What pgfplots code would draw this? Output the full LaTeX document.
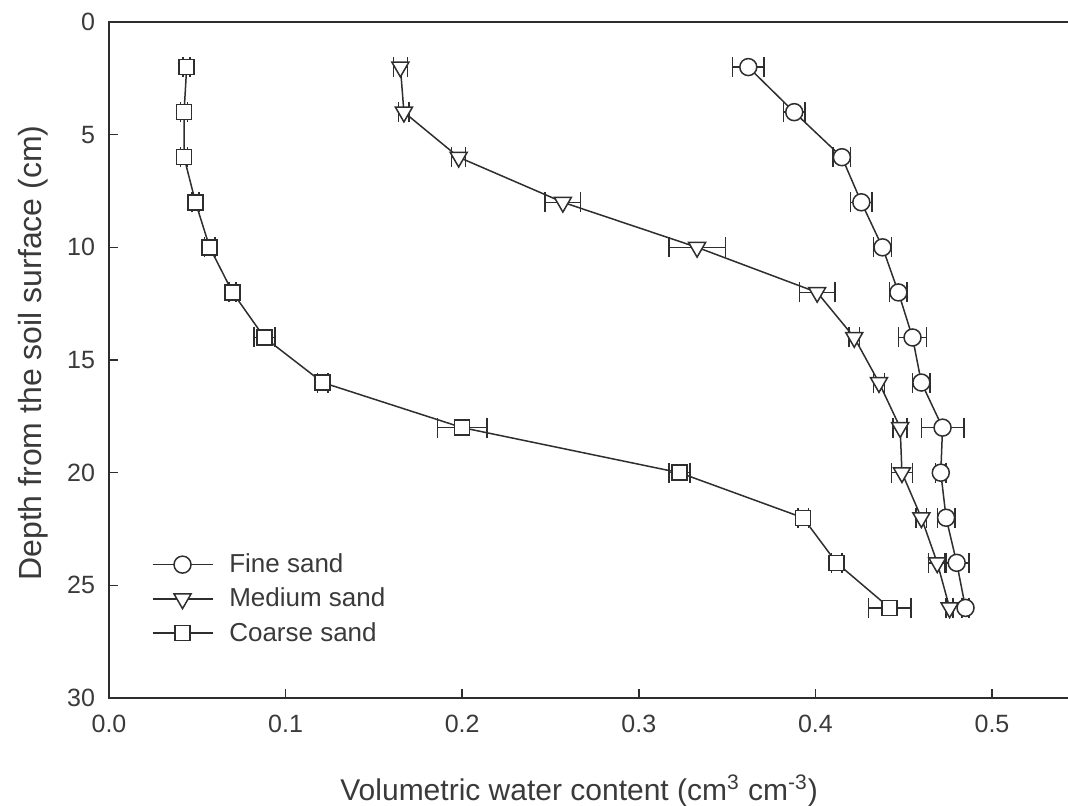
\documentclass[border=0pt]{standalone}
\usepackage{pgfplots}
\pgfplotsset{compat=1.18}
\usepackage{pgfplotstable}
\usepackage{fontspec}
\setmainfont{Liberation Sans}
\definecolor{ink}{HTML}{2E2E2E}
\definecolor{txt}{HTML}{3A3A3A}

\pgfplotstableread{
x y ex
0.362 2 0.009
0.388 4 0.006
0.415 6 0.005
0.426 8 0.006
0.438 10 0.005
0.447 12 0.005
0.455 14 0.008
0.460 16 0.005
0.472 18 0.012
0.471 20 0.003
0.474 22 0.005
0.480 24 0.007
0.485 26 0.002
}\fine
\pgfplotstableread{
x y ex
0.165 2 0.004
0.167 4 0.003
0.198 6 0.004
0.257 8 0.010
0.333 10 0.016
0.401 12 0.010
0.422 14 0.003
0.436 16 0.003
0.448 18 0.004
0.449 20 0.006
0.460 22 0.003
0.469 24 0.005
0.476 26 0.002
}\medium
\pgfplotstableread{
x y ex
0.044 2 0.002
0.0425 4 0.002
0.0425 6 0.002
0.049 8 0.002
0.057 10 0.003
0.070 12 0.002
0.088 14 0.006
0.121 16 0.003
0.200 18 0.014
0.323 20 0.006
0.393 22 0.003
0.412 24 0.003
0.442 26 0.012
}\coarse

\pgfplotsset{
  errs/.style={forget plot, draw=none, mark=none,
    error bars/.cd, x dir=both, x explicit,
    error bar style={draw=ink, line width=0.75pt, solid},
    error mark options={rotate=90, mark size=5pt, draw=ink, line width=0.75pt}},
}

\begin{document}
\begin{tikzpicture}
\begin{axis}[
  at={(0,0)}, anchor=south west,
  scale only axis, width=485.65pt, height=338pt,
  xmin=0, xmax=0.55, ymin=0, ymax=30, y dir=reverse,
  axis line style={ink, line width=1pt},
  xtick={0,0.1,0.2,0.3,0.4,0.5}, ytick={0,5,10,15,20,25,30},
  xtick pos=left, ytick pos=left,
  xticklabel pos=left, yticklabel pos=left,
  tick align=inside, major tick length=4.5pt,
  tick style={ink, line width=0.8pt},
  xticklabel style={yshift=-5pt, /pgf/number format/.cd, fixed, fixed zerofill, precision=1},
  yticklabel style={xshift=-3.5pt},
  /pgf/number format/assume math mode=true,
  tick label style={font=\fontsize{12.5}{14}\selectfont, text=txt},
  xlabel={Volumetric water content (cm\textsuperscript{3} cm\textsuperscript{-3})},
  ylabel={Depth from the soil surface (cm)},
  xlabel style={font=\fontsize{15}{18}\selectfont, text=txt, inner sep=0pt,
    at={(axis description cs:0.2378,0)}, anchor=base west, yshift=-51pt},
  ylabel style={font=\fontsize{16}{19}\selectfont, text=txt, inner sep=0pt,
    at={(axis description cs:-0.069,0.5104)}, anchor=base},
  legend style={at={(axis cs:0.024,23.4)}, anchor=north west, draw=none, fill=none,
    font=\fontsize{13}{15}\selectfont, text=txt, inner sep=0pt, row sep=2.2pt,
    nodes={inner sep=2pt}},
  legend cell align=left,
  legend image code/.code={\draw[mark repeat=2, mark phase=2, #1] plot coordinates {(0pt,0pt) (15pt,0pt) (30pt,0pt)};},
  every axis plot/.append style={ink, line width=0.75pt},
]
\addplot[errs] table[x=x, y=y, x error=ex] {\fine};
\addplot[errs] table[x=x, y=y, x error=ex] {\medium};
\addplot[errs] table[x=x, y=y, x error=ex] {\coarse};

\addplot[mark=*, mark size=4.25pt, mark options={fill=white, draw=ink, solid}]
  table[x=x, y=y] {\fine};
\addlegendentry{\hspace{6pt}Fine sand}
\addplot[mark=triangle*, mark size=4.9pt, mark options={fill=white, draw=ink, solid, rotate=180}]
  table[x=x, y=y] {\medium};
\addlegendentry{\hspace{6pt}Medium sand}
\addplot[mark=square*, mark size=3.75pt, mark options={fill=white, draw=ink, solid}]
  table[x=x, y=y] {\coarse};
\addlegendentry{\hspace{6pt}Coarse sand}
\end{axis}
\pgfresetboundingbox
\path[use as bounding box] (-54.5pt,-53.5pt) rectangle (479.5pt,349pt);
\end{tikzpicture}
\end{document}
